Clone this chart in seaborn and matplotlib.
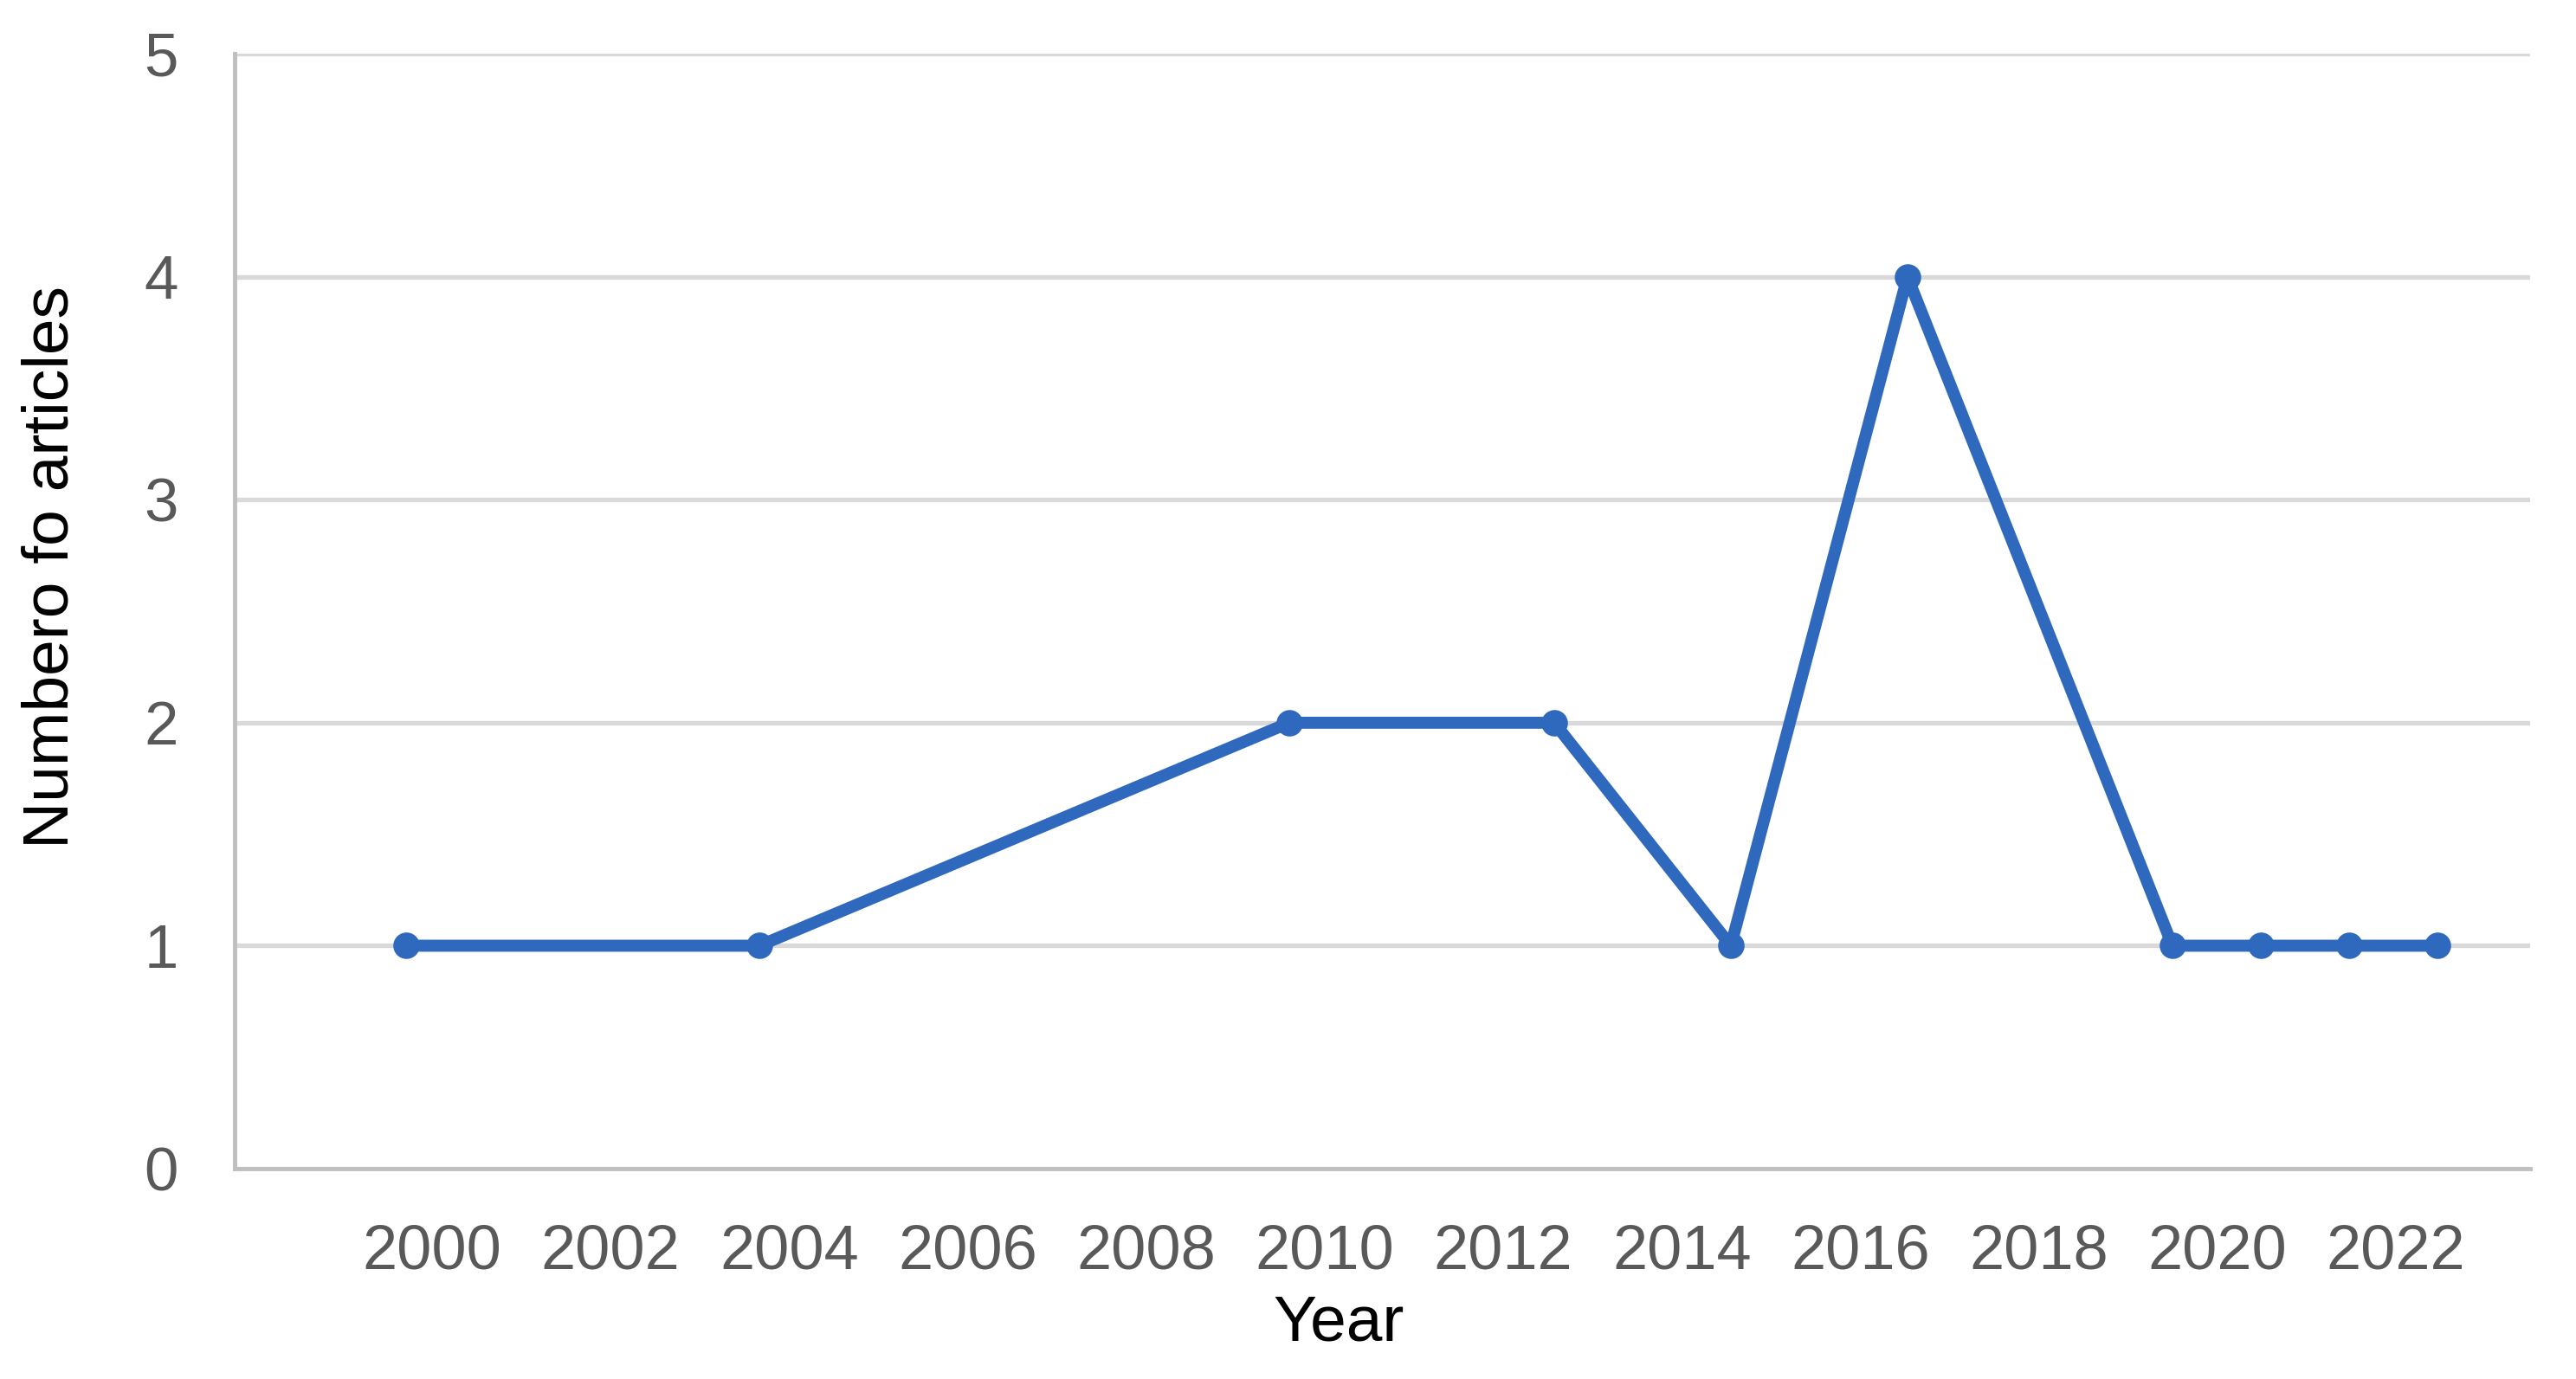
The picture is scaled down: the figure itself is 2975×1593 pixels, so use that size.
import numpy as np
import pandas as pd
import matplotlib
matplotlib.use("Agg")
import matplotlib.pyplot as plt
import seaborn as sns

# ======================
# DATA
# ======================
years = [2000, 2004, 2010, 2013, 2015, 2017, 2020, 2021, 2022, 2023]
articles = [1, 1, 2, 2, 1, 4, 1, 1, 1, 1]
tick_years = [2000, 2002, 2004, 2006, 2008, 2010, 2012, 2014, 2016, 2018, 2020, 2022]
y_ticks = [0, 1, 2, 3, 4, 5]

df = pd.DataFrame({"Year": years, "Articles": articles})

# ======================
# STYLE
# ======================
sns.set_style("white")
plt.rcParams["font.family"] = ["Liberation Sans", "DejaVu Sans"]

LINE_COLOR = "#2E69BD"
GRID_COLOR = "#D9D9D9"
AXIS_COLOR = "#BFBFBF"
TICK_COLOR = "#595959"

fig = plt.figure(figsize=(29.75, 15.93), dpi=100)
ax = fig.add_axes([0.0911, 0.1525, 0.8911, 0.8085])

sns.lineplot(
    data=df,
    x="Year",
    y="Articles",
    marker="o",
    color=LINE_COLOR,
    linewidth=10,
    markersize=22,
    markeredgewidth=0,
    ax=ax,
    zorder=3,
)

ax.set_xlim(1998.06, 2024.05)
ax.set_ylim(0, 5)

# Excel-like category labels sit slightly right of the data years
tick_pos = [y + 0.294 + 0.0108 * (y - 2000) for y in tick_years]
ax.set_xticks(tick_pos)
ax.set_xticklabels([str(y) for y in tick_years])
ax.set_yticks(y_ticks)
ax.set_yticklabels([str(v) for v in y_ticks])

ax.tick_params(axis="x", length=0, pad=46, labelsize=52, labelcolor=TICK_COLOR)
ax.tick_params(axis="y", length=0, pad=47, labelsize=51, labelcolor=TICK_COLOR)

ax.yaxis.grid(True, color=GRID_COLOR, linewidth=3.8)
ax.xaxis.grid(False)
ax.set_axisbelow(True)

for side in ["top", "right"]:
    ax.spines[side].set_visible(False)
for side in ["left", "bottom"]:
    ax.spines[side].set_color(AXIS_COLOR)
    ax.spines[side].set_linewidth(3.5)

ax.set_xlabel("Year", fontsize=54, color="black")
ax.set_ylabel("Numbero fo articles", fontsize=54, color="black")
ax.xaxis.set_label_coords(0.481, -0.112)
ax.yaxis.set_label_coords(-0.067, 0.54)

fig.savefig("out.png", dpi=100)
plt.close(fig)
